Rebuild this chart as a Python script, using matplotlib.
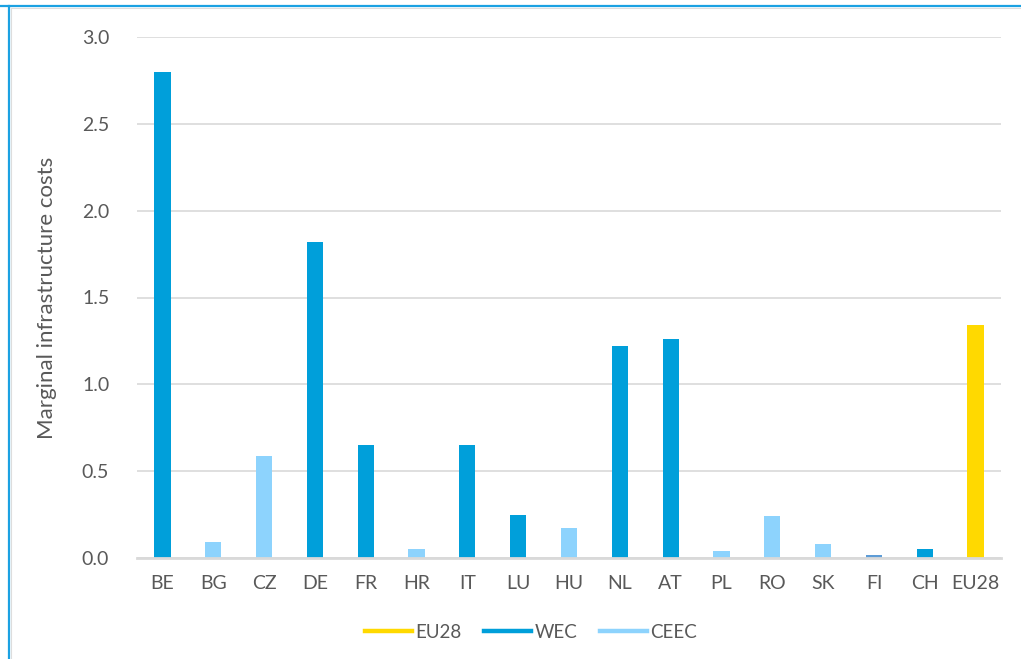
import matplotlib.pyplot as plt
from matplotlib.lines import Line2D
import numpy as np

countries = ['BE', 'BG', 'CZ', 'DE', 'FR', 'HR', 'IT', 'LU', 'HU', 'NL', 'AT',
             'PL', 'RO', 'SK', 'FI', 'CH', 'EU28']
costs = [2.80, 0.09, 0.59, 1.82, 0.65, 0.05, 0.65, 0.25, 0.17, 1.22, 1.26,
         0.04, 0.24, 0.08, 0.02, 0.05, 1.34]
groups = ['WEC', 'CEEC', 'CEEC', 'WEC', 'WEC', 'CEEC', 'WEC', 'WEC', 'CEEC', 'WEC', 'WEC',
          'CEEC', 'CEEC', 'CEEC', 'FI', 'WEC', 'EU28']

colours = {'EU28': '#FFD900', 'WEC': '#009FDA', 'CEEC': '#8DD3FD', 'FI': '#5E9CD6'}
txt = '#595959'
grid = '#D9D9D9'

plt.rcParams['font.family'] = ['Lato', 'DejaVu Sans']

fig = plt.figure(figsize=(10.21, 6.59), dpi=100)
ax = fig.add_axes([137 / 1021, 1 - 558 / 659, (1001 - 137) / 1021, (558 - 37) / 659])

x = np.arange(len(countries))
ax.bar(x, costs, width=0.32, color=[colours[g] for g in groups], zorder=3)

ax.set_xlim(-0.5, len(countries) - 0.5)
ax.set_ylim(0, 3.0)
ax.set_yticks(np.arange(0, 3.01, 0.5))
ax.set_yticklabels([f'{v:.1f}' for v in np.arange(0, 3.01, 0.5)])
ax.set_xticks(x)
ax.set_xticklabels(countries)
ax.tick_params(axis='both', length=0, colors=txt, labelsize=14)
ax.tick_params(axis='y', pad=20)
ax.tick_params(axis='x', pad=12)
ax.yaxis.grid(True, color=grid, linewidth=1.2, zorder=0)
for s in ['top', 'right', 'left']:
    ax.spines[s].set_visible(False)
ax.spines['bottom'].set_color(grid)
ax.spines['bottom'].set_linewidth(2)
ax.spines['bottom'].set_zorder(4)

ax.set_ylabel('Marginal infrastructure costs', color=txt, fontsize=16, labelpad=18)

handles = [Line2D([], [], color=colours[k], linewidth=3.2) for k in ['EU28', 'WEC', 'CEEC']]
fig.legend(handles, ['EU28', 'WEC', 'CEEC'], loc='center', bbox_to_anchor=(531 / 1021, 1 - 632 / 659),
           ncol=3, frameon=False, fontsize=13.5, labelcolor=txt, handlelength=2.5,
           handletextpad=0.2, columnspacing=1.2)

# frame lines of the cropped screenshot
fig.add_artist(Line2D([0, 1], [1 - 6 / 659, 1 - 6 / 659], transform=fig.transFigure,
                      color='#1BA1E2', linewidth=1.6))
fig.add_artist(Line2D([9 / 1021, 9 / 1021], [0, 1 - 6 / 659], transform=fig.transFigure,
                      color='#1BA1E2', linewidth=1.6))
fig.add_artist(Line2D([11 / 1021, 1], [1 - 8 / 659, 1 - 8 / 659], transform=fig.transFigure,
                      color='#DDDDDD', linewidth=0.8))
fig.add_artist(Line2D([11 / 1021, 11 / 1021], [0, 1 - 8 / 659], transform=fig.transFigure,
                      color='#DDDDDD', linewidth=0.8))

fig.savefig('out.png', dpi=100)
